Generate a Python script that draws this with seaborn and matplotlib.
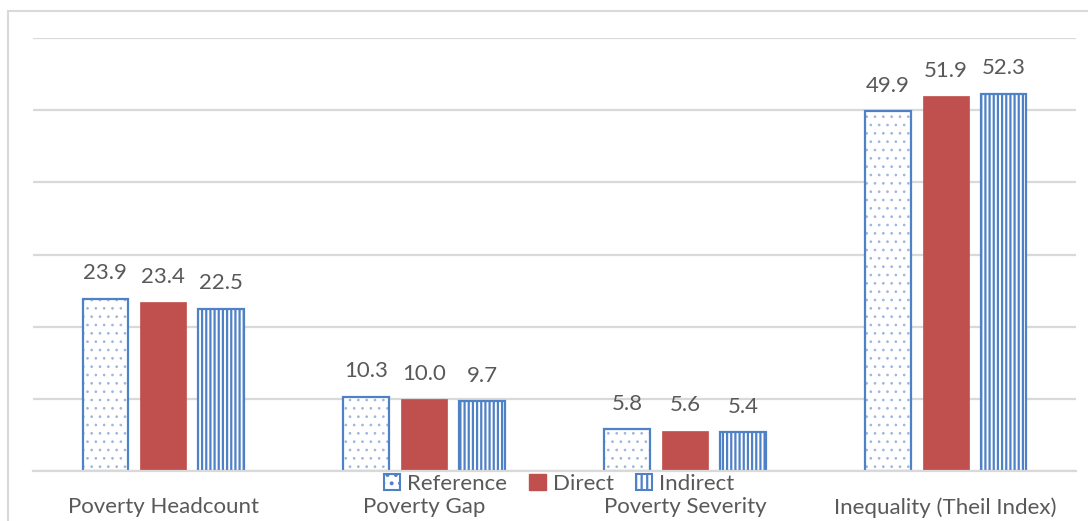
import matplotlib
matplotlib.use("Agg")
import matplotlib.pyplot as plt
import seaborn as sns
import pandas as pd
from matplotlib.patches import Patch, Rectangle

categories = ["Poverty Headcount", "Poverty Gap", "Poverty Severity", "Inequality (Theil Index)"]
series = ["Reference", "Direct", "Indirect"]
reference = [23.9, 10.3, 5.8, 49.9]
direct = [23.4, 10.0, 5.6, 51.9]
indirect = [22.5, 9.7, 5.4, 52.3]

df = pd.DataFrame({
    "category": categories * 3,
    "series": ["Reference"] * 4 + ["Direct"] * 4 + ["Indirect"] * 4,
    "value": reference + direct + indirect,
})

sns.set_theme(style="white")
plt.rcParams["font.family"] = ["Lato", "DejaVu Sans"]
plt.rcParams["hatch.linewidth"] = 1.6

blue = "#4F81C7"
dotblue = "#9DB5DE"
red = "#C0504D"
txt = "#595959"
grid = "#D9D9D9"
FS = 16

fig = plt.figure(figsize=(10.88, 5.21), dpi=100)
ax = fig.add_axes([33 / 1088, 1 - 471 / 521, (1076 - 33) / 1088, (471 - 38) / 521])

sns.barplot(data=df, x="category", y="value", hue="series", hue_order=series,
            order=categories, palette=["white", red, "white"], width=0.667, gap=0.21,
            legend=False, ax=ax, saturation=1, errorbar=None)

def set_hlw(p, w):
    if hasattr(p, "set_hatch_linewidth"):
        p.set_hatch_linewidth(w)

for cont, s in zip(ax.containers, series):
    for p in cont:
        if s == "Reference":
            p.set_facecolor("white")
            p.set_edgecolor(dotblue)
            p.set_hatch("..")
            p.set_linewidth(0)
            set_hlw(p, 0.7)
            outline = Rectangle(p.get_xy(), p.get_width(), p.get_height(), fill=False,
                                edgecolor=blue, lw=1.6, zorder=p.get_zorder() + 0.1)
            ax.add_patch(outline)
        elif s == "Direct":
            p.set_facecolor(red)
            p.set_edgecolor(red)
            p.set_linewidth(0.5)
        else:
            p.set_facecolor("white")
            p.set_edgecolor(blue)
            p.set_hatch("||||")
            p.set_linewidth(1.6)
            set_hlw(p, 1.6)
    ax.bar_label(cont, fmt="%.1f", padding=11, fontsize=FS, color=txt)

ax.set_ylim(0, 60)
ax.set_yticks(range(0, 61, 10))
ax.set_yticklabels([])
ax.tick_params(axis="y", length=0)
ax.yaxis.grid(True, color=grid, lw=1.6)
ax.set_axisbelow(True)
for sp in ["top", "right", "left"]:
    ax.spines[sp].set_visible(False)
ax.spines["bottom"].set_color(grid)
ax.spines["bottom"].set_linewidth(1.6)
ax.set_xlabel("")
ax.set_ylabel("")
ax.tick_params(axis="x", length=0, pad=19, labelsize=FS, labelcolor=txt)

h_ref = Patch(facecolor="white", edgecolor=blue, hatch="..", lw=1.5)
set_hlw(h_ref, 0.6)
handles = [h_ref,
           Patch(facecolor=red, edgecolor=red),
           Patch(facecolor="white", edgecolor=blue, hatch="|||", lw=1.5)]
fig.legend(handles, series, loc="center", bbox_to_anchor=(559 / 1088, 1 - 484 / 521),
           ncol=3, frameon=False, fontsize=FS, labelcolor=txt, handlelength=0.75,
           handleheight=0.75, handletextpad=0.3, columnspacing=1.0, borderpad=0)

fig.patches.append(Rectangle((8 / 1088, -0.1), 1.2, 1 - 11 / 521 + 0.1, transform=fig.transFigure,
                             fill=False, edgecolor=grid, lw=1.5, zorder=-1))

fig.savefig("out.png", dpi=100, facecolor="white")
